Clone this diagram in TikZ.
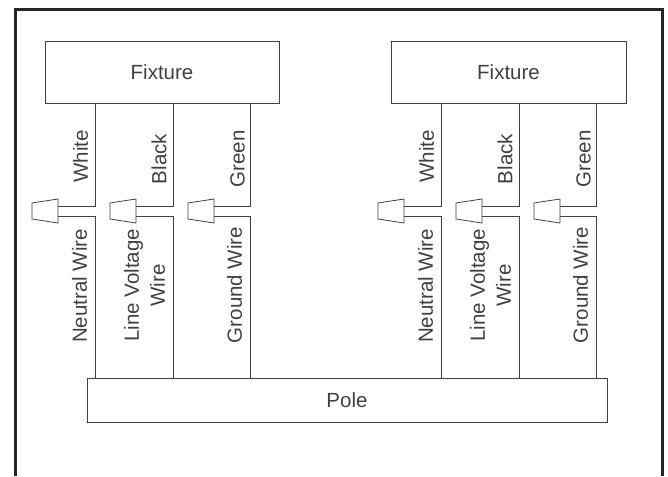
\documentclass[tikz,border=0pt]{standalone}
\usepackage{fontspec}
\setmainfont{Liberation Sans}
\usetikzlibrary{shapes.geometric}
\definecolor{inkgray}{gray}{0.25}
\tikzstyle{box}=[rectangle,draw=inkgray,line width=0.8pt,inner sep=0pt,text=inkgray,font=\fontsize{20.5pt}{26pt}\selectfont]
\tikzstyle{plug}=[trapezium,draw=inkgray,line width=0.8pt,inner sep=1pt,shape border rotate=90,trapezium left angle=76,trapezium right angle=76,minimum width=24pt,minimum height=26pt,trapezium stretches=true]
\tikzstyle{wirename}=[rotate=90,align=center,inner sep=0pt,text=inkgray,font=\fontsize{20.5pt}{26pt}\selectfont]
\tikzstyle{wire}=[draw=inkgray,line width=0.8pt]

\begin{document}
\begin{tikzpicture}[x=1pt,y=1pt]
		\useasboundingbox (0,0) rectangle (668,-476);
		% frame, open at the bottom
		\coordinate (frameL) at (15,-476);
		\coordinate (frameR) at (662,-476);
		\draw[draw=black!85,line width=3pt] (frameL)--(15,-10)--(662,-10)--(frameR);
		\node[box,minimum width=234pt,minimum height=62pt] (fixtureL) at (162,-72){Fixture};
		\node[box,minimum width=235pt,minimum height=62pt,right of=fixtureL,node distance=346.5pt] (fixtureR){Fixture};
		\node[box,minimum width=520pt,minimum height=44pt] (pole) at (347,-400){Pole};
		\node[plug] (plugA) at (45,-211){};
		\node[plug,right of=plugA,node distance=78pt] (plugB){};
		\node[plug,right of=plugB,node distance=78pt] (plugC){};
		\node[plug,right of=plugC,node distance=190pt] (plugD){};
		\node[plug,right of=plugD,node distance=78pt] (plugE){};
		\node[plug,right of=plugE,node distance=78pt] (plugF){};
		\coordinate (topA) at (95,-103);
		\coordinate (topB) at (173,-103);
		\coordinate (topC) at (250,-103);
		\coordinate (topD) at (441,-103);
		\coordinate (topE) at (519,-103);
		\coordinate (topF) at (596,-103);
		\draw[wire] (topA) |- ([yshift=5pt]plugA.bottom side);
		\draw[wire] (topB) |- ([yshift=5pt]plugB.bottom side);
		\draw[wire] (topC) |- ([yshift=5pt]plugC.bottom side);
		\draw[wire] (topD) |- ([yshift=5pt]plugD.bottom side);
		\draw[wire] (topE) |- ([yshift=5pt]plugE.bottom side);
		\draw[wire] (topF) |- ([yshift=5pt]plugF.bottom side);
		\draw[wire] ([yshift=-5pt]plugA.bottom side) -| (topA |- pole.north);
		\draw[wire] ([yshift=-5pt]plugB.bottom side) -| (topB |- pole.north);
		\draw[wire] ([yshift=-5pt]plugC.bottom side) -| (topC |- pole.north);
		\draw[wire] ([yshift=-5pt]plugD.bottom side) -| (topD |- pole.north);
		\draw[wire] ([yshift=-5pt]plugE.bottom side) -| (topE |- pole.north);
		\draw[wire] ([yshift=-5pt]plugF.bottom side) -| (topF |- pole.north);
		\node[wirename] (whiteA) at (80.5,-156.5){White};
		\node[wirename] (blackA) at (159,-159){Black};
		\node[wirename] (greenA) at (237.5,-159){Green};
		\node[wirename] (whiteB) at ([xshift=346pt]whiteA){White};
		\node[wirename] (blackB) at ([xshift=346pt]blackA){Black};
		\node[wirename] (greenB) at ([xshift=346pt]greenA){Green};
		\node[wirename] (neutralA) at (79.5,-286){Neutral Wire};
		\node[wirename] (lineA) at (144.5,-285.5){Line Voltage\\Wire};
		\node[wirename] (groundA) at (234.5,-285){Ground Wire};
		\node[wirename] (neutralB) at ([xshift=346pt]neutralA){Neutral Wire};
		\node[wirename] (lineB) at ([xshift=346pt]lineA){Line Voltage\\Wire};
		\node[wirename] (groundB) at ([xshift=346pt]groundA){Ground Wire};
	\end{tikzpicture}
\end{document}
